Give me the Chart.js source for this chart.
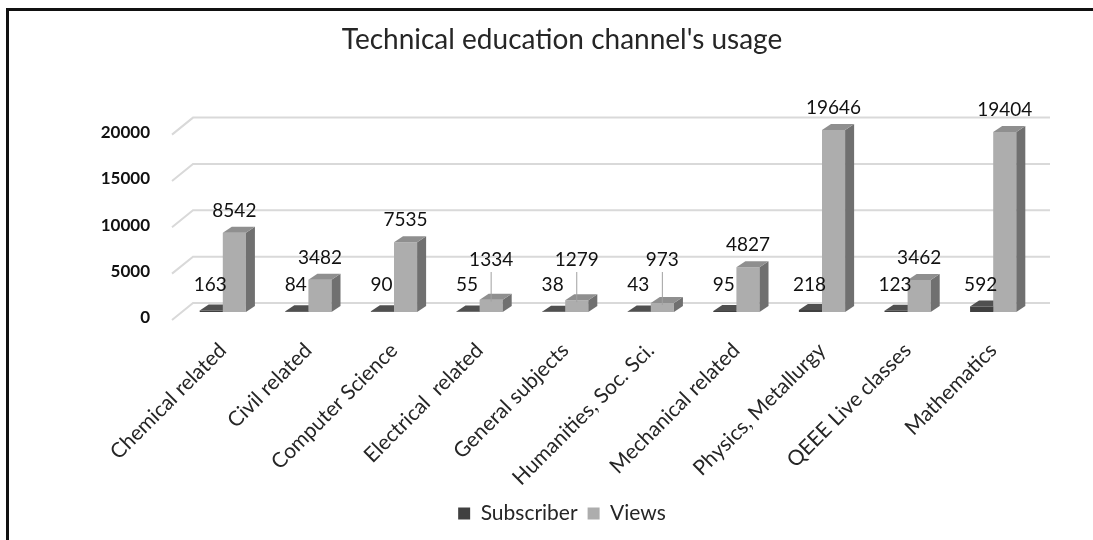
<!DOCTYPE html>
<html>
<head>
<meta charset="utf-8">
<script src="https://cdn.jsdelivr.net/npm/chart.js@4"></script>
<style>
  html, body { margin: 0; padding: 0; background: #fff; }
  #wrap { position: relative; width: 1093px; height: 540px; }
  #frame {
    position: absolute; left: 6px; top: 8px; right: 0; bottom: 0;
    border-left: 3px solid #111; border-top: 3px solid #111;
    pointer-events: none;
  }
</style>
</head>
<body>
<div id="wrap">
  <canvas id="usageChart" width="1093" height="540"></canvas>
  <div id="frame"></div>
</div>
<script>
/***********************
 * DATA
 ***********************/
const categories = [
  "Chemical related", "Civil related", "Computer Science", "Electrical  related",
  "General subjects", "Humanities, Soc. Sci.", "Mechanical related",
  "Physics, Metallurgy", "QEEE Live classes", "Mathematics"
];
const subscribers = [163, 84, 90, 55, 38, 43, 95, 218, 123, 592];
const views = [8542, 3482, 7535, 1334, 1279, 973, 4827, 19646, 3462, 19404];
const yTicks = [0, 5000, 10000, 15000, 20000];

/***********************
 * 3D LOOK
 ***********************/
const DEPTH_X = 9;
const DEPTH_Y = 6;
const FONT = "Lato, 'Open Sans', sans-serif";

const shades = [
  { front: "#404040", side: "#2e2e2e", top: "#505050" },
  { front: "#adadad", side: "#707070", top: "#8f8f8f" }
];

function drawFaces(ctx, meta, c) {
  meta.data.forEach(bar => {
    const l = bar.x - bar.width / 2;
    const r = bar.x + bar.width / 2;
    const top = bar.y;
    const base = bar.base;
    // side
    ctx.fillStyle = c.side;
    ctx.beginPath();
    ctx.moveTo(r, top);
    ctx.lineTo(r + DEPTH_X, top - DEPTH_Y);
    ctx.lineTo(r + DEPTH_X, base - DEPTH_Y);
    ctx.lineTo(r, base);
    ctx.closePath();
    ctx.fill();
    // top
    ctx.fillStyle = c.top;
    ctx.beginPath();
    ctx.moveTo(l, top);
    ctx.lineTo(r, top);
    ctx.lineTo(r + DEPTH_X, top - DEPTH_Y);
    ctx.lineTo(l + DEPTH_X, top - DEPTH_Y);
    ctx.closePath();
    ctx.fill();
  });
}

// back-wall grid lines + subscriber faces (views bars get drawn over them)
const backPlugin = {
  id: "back3d",
  beforeDatasetsDraw(chart) {
    const { ctx, chartArea } = chart;
    const y = chart.scales.y;
    ctx.save();
    ctx.strokeStyle = "#d9d9d9";
    ctx.lineWidth = 2;
    yTicks.forEach(v => {
      const py = y.getPixelForValue(v);
      ctx.beginPath();
      ctx.moveTo(chartArea.left - 8, py + 8);
      ctx.lineTo(chartArea.left + 13, py - 9);
      ctx.lineTo(chartArea.right + 14, py - 9);
      ctx.stroke();
    });
    drawFaces(ctx, chart.getDatasetMeta(0), shades[0]);
    ctx.restore();
  }
};

// faces of the views bars, right after that dataset is drawn
const frontPlugin = {
  id: "front3d",
  afterDatasetDraw(chart, args) {
    if (args.index !== 1) return;
    chart.ctx.save();
    drawFaces(chart.ctx, args.meta, shades[1]);
    chart.ctx.restore();
  }
};

// value labels, with leader lines where the label floats off the bar
const labelPlugin = {
  id: "valueLabels",
  afterDatasetsDraw(chart) {
    const { ctx } = chart;
    ctx.save();
    ctx.font = "19px " + FONT;
    ctx.fillStyle = "#111";
    ctx.textAlign = "center";
    ctx.textBaseline = "middle";

    chart.getDatasetMeta(0).data.forEach((bar, i) => {
      ctx.fillText(String(subscribers[i]), bar.x - 1, bar.base - 27);
    });

    chart.getDatasetMeta(1).data.forEach((bar, i) => {
      const ly = Math.min(bar.y - 22, bar.base - 52);
      ctx.fillText(String(views[i]), bar.x, ly);
      if (bar.y - ly > 30) {
        ctx.strokeStyle = "#a0a0a0";
        ctx.lineWidth = 1;
        ctx.beginPath();
        ctx.moveTo(bar.x, ly + 12);
        ctx.lineTo(bar.x, bar.y + 2);
        ctx.stroke();
      }
    });
    ctx.restore();
  }
};

/***********************
 * CHART
 ***********************/
const ctx = document.getElementById("usageChart").getContext("2d");

new Chart(ctx, {
  type: "bar",
  data: {
    labels: categories,
    datasets: [
      { label: "Subscriber", data: subscribers, backgroundColor: shades[0].front },
      { label: "Views", data: views, backgroundColor: shades[1].front }
    ]
  },
  options: {
    responsive: false,
    animation: false,
    events: [],
    layout: { padding: { left: 88, right: 57, top: 0, bottom: 6 } },
    datasets: {
      bar: { barPercentage: 1, categoryPercentage: 0.54 }
    },
    plugins: {
      title: {
        display: true,
        text: "Technical education channel's usage",
        color: "#262626",
        font: { family: FONT, size: 28, weight: "normal" },
        padding: { top: 23, bottom: 70 }
      },
      legend: {
        position: "bottom",
        labels: {
          color: "#262626",
          font: { family: FONT, size: 21 },
          boxWidth: 12,
          boxHeight: 12,
          padding: 10,
          sort: (a, b) => a.datasetIndex - b.datasetIndex
        }
      },
      tooltip: { enabled: false }
    },
    scales: {
      x: {
        grid: { display: false, drawTicks: false },
        border: { display: false },
        ticks: {
          color: "#262626",
          font: { family: FONT, size: 21 },
          minRotation: 45,
          maxRotation: 45,
          autoSkip: false,
          padding: 26
        },
        afterFit(scale) { scale.height = 181; }
      },
      y: {
        min: 0,
        max: 20000,
        grid: { display: false, drawTicks: false },
        border: { display: false },
        afterBuildTicks(scale) {
          scale.ticks = yTicks.map(v => ({ value: v }));
        },
        ticks: {
          color: "#111",
          font: { family: FONT, size: 17, weight: "bold" },
          padding: 30,
          labelOffset: 6,
          callback: v => String(v)
        },
        afterFit(scale) { scale.width = 92; }
      }
    }
  },
  plugins: [backPlugin, frontPlugin, labelPlugin]
});
</script>
</body>
</html>
